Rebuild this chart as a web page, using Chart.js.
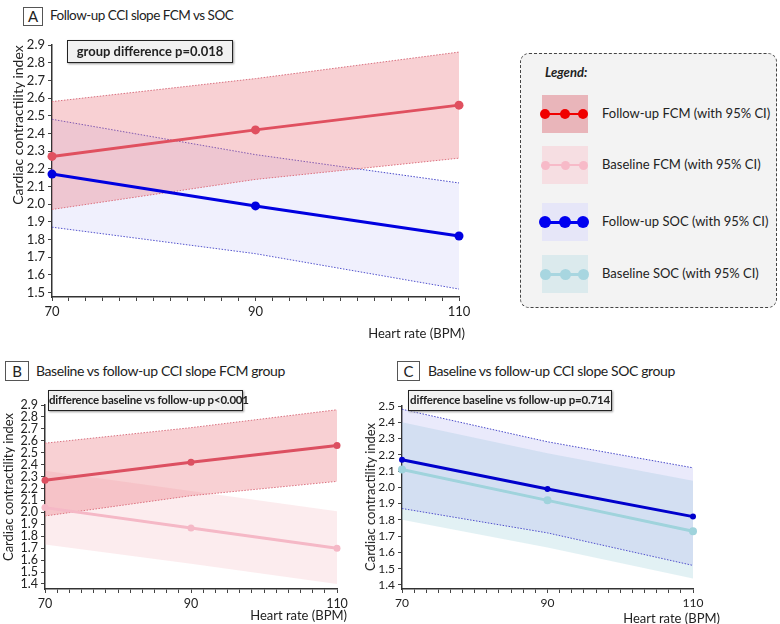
<!DOCTYPE html>
<html>
<head>
<meta charset="utf-8">
<script src="https://cdn.jsdelivr.net/npm/chart.js@4"></script>
<style>
  body { margin: 0; width: 780px; height: 624px; position: relative; overflow: hidden; background: #fff;
         font-family: Lato, "Open Sans", sans-serif; color: #222; }
  canvas { position: absolute; }
  .txt { position: absolute; white-space: nowrap; }
  .ptitle { position: absolute; white-space: nowrap; font-size: 14px; letter-spacing: -0.4px; }
  .letter { position: absolute; border: 1px solid #555; text-align: center; font-size: 15px; box-sizing: border-box; }
  .note { position: absolute; border: 1.5px solid #222; background: #f1f1f1; font-weight: bold; font-size: 13px;
          text-align: center; box-sizing: border-box; box-shadow: 1px 1px 2px #999; white-space: nowrap; }
  .ytitle { position: absolute; white-space: nowrap; transform: translate(-50%, -50%) rotate(-90deg); }
  #legend { position: absolute; left: 520px; top: 53px; width: 257px; height: 255px; box-sizing: border-box;
            border: 1px dashed #444; border-radius: 9px; background: #f3f3f3; }
</style>
</head>
<body>
<div class="letter" style="left:23px;top:7px;width:20px;height:19px;line-height:17px">A</div>
<div class="ptitle" style="left:50px;top:7px;font-size:13.5px;letter-spacing:-0.5px">Follow-up CCI slope FCM vs SOC</div>
<div class="letter" style="left:5px;top:361px;width:24px;height:20px;line-height:18px">B</div>
<div class="ptitle" style="left:36px;top:362px">Baseline vs follow-up CCI slope FCM group</div>
<div class="letter" style="left:397px;top:361px;width:23px;height:20px;line-height:18px">C</div>
<div class="ptitle" style="left:428px;top:362px">Baseline vs follow-up CCI slope SOC group</div>

<canvas id="chartA" width="480" height="320" style="left:0;top:30px"></canvas>
<canvas id="chartB" width="360" height="234" style="left:0;top:390px"></canvas>
<canvas id="chartC" width="400" height="234" style="left:360px;top:390px"></canvas>

<div class="note" style="left:67px;top:40px;width:166px;height:23px;line-height:20px">group difference p=0.018</div>
<div class="note" style="left:48px;top:390px;width:195px;height:21px;line-height:18px;font-size:11.5px;letter-spacing:-0.2px">difference baseline vs follow-up p&lt;0.001</div>
<div class="note" style="left:408px;top:390px;width:204px;height:21px;line-height:18px;font-size:11.5px;letter-spacing:-0.2px">difference baseline vs follow-up p=0.714</div>

<div class="ytitle" style="left:17px;top:125px;font-size:14px">Cardiac contractility index</div>
<div class="ytitle" style="left:8px;top:487px;font-size:13px">Cardiac contractility index</div>
<div class="ytitle" style="left:370px;top:497px;font-size:13px">Cardiac contractility index</div>
<div class="txt" style="right:315px;top:325px;font-size:13px">Heart rate (BPM)</div>
<div class="txt" style="right:433px;top:607px;font-size:13px">Heart rate (BPM)</div>
<div class="txt" style="right:60px;top:610px;font-size:13px">Heart rate (BPM)</div>

<div id="legend"></div>

<script>
// heart rate points and y values
const hr = [70, 90, 110];
const xLabels = [70, 90, 110];

const fuFcm   = [2.27, 2.42, 2.56];
const fuFcmHi = [2.58, 2.71, 2.86];
const fuFcmLo = [1.97, 2.14, 2.26];

const fuSoc   = [2.17, 1.99, 1.82];
const fuSocHi = [2.48, 2.28, 2.12];
const fuSocLo = [1.87, 1.72, 1.52];

const blFcm   = [2.04, 1.87, 1.70];
const blFcmHi = [2.35, 2.18, 2.01];
const blFcmLo = [1.73, 1.57, 1.40];

const blSoc   = [2.11, 1.92, 1.73];
const blSocHi = [2.40, 2.21, 2.04];
const blSocLo = [1.80, 1.63, 1.44];

const yTicksA = [1.5, 1.6, 1.7, 1.8, 1.9, 2.0, 2.1, 2.2, 2.3, 2.4, 2.5, 2.6, 2.7, 2.8, 2.9];
const yTicksB = [1.4, 1.5, 1.6, 1.7, 1.8, 1.9, 2.0, 2.1, 2.2, 2.3, 2.4, 2.5, 2.6, 2.7, 2.8, 2.9];
const yTicksC = [1.4, 1.5, 1.6, 1.7, 1.8, 1.9, 2.0, 2.1, 2.2, 2.3, 2.4, 2.5];

const legendLabels = ['Follow-up FCM (with 95% CI)', 'Baseline FCM (with 95% CI)',
                      'Follow-up SOC (with 95% CI)', 'Baseline SOC (with 95% CI)'];

function pts(ys) {
  return hr.map((x, i) => ({ x: x, y: ys[i] }));
}

function band(hi, lo, fill, border, order) {
  const common = {
    pointRadius: 0, tension: 0, order: order,
    borderColor: border || 'transparent', borderWidth: border ? 1 : 0, borderDash: [1.5, 1.5]
  };
  return [
    Object.assign({ data: pts(hi), fill: '+1', backgroundColor: fill }, common),
    Object.assign({ data: pts(lo), fill: false }, common)
  ];
}

function line(ys, color, width, radius) {
  return {
    data: pts(ys), borderColor: color, backgroundColor: color, borderWidth: width,
    pointRadius: radius, pointBorderWidth: 0, fill: false, clip: false, order: 0, tension: 0
  };
}

function makeChart(id, datasets, cfg) {
  const font = { family: 'Lato', size: cfg.fontSize };
  new Chart(document.getElementById(id), {
    type: 'line',
    data: { datasets: datasets },
    options: {
      responsive: false,
      animation: false,
      layout: { padding: cfg.padding },
      plugins: { legend: { display: false }, tooltip: { enabled: false } },
      scales: {
        x: {
          type: 'linear', min: 70, max: 110,
          afterBuildTicks: ax => {
            const t = [];
            for (let i = 0; i <= 24; i++) t.push({ value: 70 + i * 10 / 6 });
            ax.ticks = t;
          },
          afterFit: s => { s.height = cfg.xHeight; },
          ticks: {
            autoSkip: false, maxRotation: 0, padding: 3, color: '#222', font: font,
            callback: v => { const l = xLabels.find(m => Math.abs(m - v) < 0.01); return l === undefined ? '' : String(l); }
          },
          grid: { drawOnChartArea: false, tickLength: 4, color: '#444' },
          border: { color: '#333', width: 1.5 }
        },
        y: {
          type: 'linear', min: cfg.yMin, max: cfg.yMax,
          afterBuildTicks: ax => { ax.ticks = cfg.yTicks.map(v => ({ value: v })); },
          afterFit: s => { s.width = cfg.yWidth; },
          ticks: { autoSkip: false, padding: 3, color: '#222', font: font, callback: v => v.toFixed(1) },
          grid: { drawOnChartArea: false, tickLength: 4, color: '#444' },
          border: { color: '#333', width: 1.5 }
        }
      }
    }
  });
}

makeChart('chartA', [
  line(fuFcm, '#e0505f', 3, 4.5),
  line(fuSoc, '#0000e0', 3, 4.5),
  ...band(fuFcmHi, fuFcmLo, 'rgba(235,120,130,0.35)', '#d8707f', 2),
  ...band(fuSocHi, fuSocLo, 'rgba(180,180,245,0.2)', '#4848c8', 3)
], { fontSize: 13, yTicks: yTicksA, yMin: 1.475, yMax: 2.9, yWidth: 52, xHeight: 53,
     padding: { top: 15, right: 21, left: 0, bottom: 0 } });

makeChart('chartB', [
  line(fuFcm, '#dc5061', 3, 3.5),
  line(blFcm, '#f5b8c6', 3, 3.5),
  ...band(fuFcmHi, fuFcmLo, 'rgba(235,120,130,0.35)', '#d8707f', 2),
  ...band(blFcmHi, blFcmLo, 'rgba(240,160,170,0.2)', null, 3)
], { fontSize: 12.5, yTicks: yTicksB, yMin: 1.358, yMax: 2.9, yWidth: 45, xHeight: 35,
     padding: { top: 15, right: 23, left: 0, bottom: 0 } });

makeChart('chartC', [
  line(fuSoc, '#0000cc', 3, 3),
  line(blSoc, '#9fd3dc', 3, 4),
  ...band(fuSocHi, fuSocLo, 'rgba(150,150,235,0.2)', '#4848c8', 2),
  ...band(blSocHi, blSocLo, 'rgba(160,210,220,0.3)', null, 3)
], { fontSize: 12, yTicks: yTicksC, yMin: 1.375, yMax: 2.5, yWidth: 42, xHeight: 35,
     padding: { top: 16, right: 67, left: 0, bottom: 0 } });

// legend box (drawn as HTML)
const legendSwatch = ['#e9b5ba', '#f6dee2', '#e6e6f8', '#dbeaed'];
const legendDot = ['#f00000', '#f7bac8', '#0000f0', '#a8d6e0'];
const legendDotSize = [10, 9, 12, 11];
const legendLineW = [2, 1.5, 3, 3];
const legendRowY = [113, 164, 221, 273];

const lg = document.getElementById('legend');
let html = '<div class="txt" style="left:24px;top:10px;font-size:13px;font-weight:bold;font-style:italic">Legend:</div>';
legendLabels.forEach((lab, i) => {
  const cy = legendRowY[i] - 53;
  html += `<div style="position:absolute;left:21px;top:${cy - 19}px;width:46px;height:38px;background:${legendSwatch[i]}"></div>`;
  html += `<div style="position:absolute;left:24px;top:${cy - legendLineW[i] / 2}px;width:38px;height:${legendLineW[i]}px;background:${legendDot[i]}"></div>`;
  [24, 44, 62].forEach(cx => {
    const d = legendDotSize[i];
    html += `<div style="position:absolute;left:${cx - d / 2}px;top:${cy - d / 2}px;width:${d}px;height:${d}px;border-radius:50%;background:${legendDot[i]}"></div>`;
  });
  html += `<div class="txt" style="left:81px;top:${cy - 9}px;font-size:13px">${lab}</div>`;
});
lg.innerHTML = html;
</script>
</body>
</html>
